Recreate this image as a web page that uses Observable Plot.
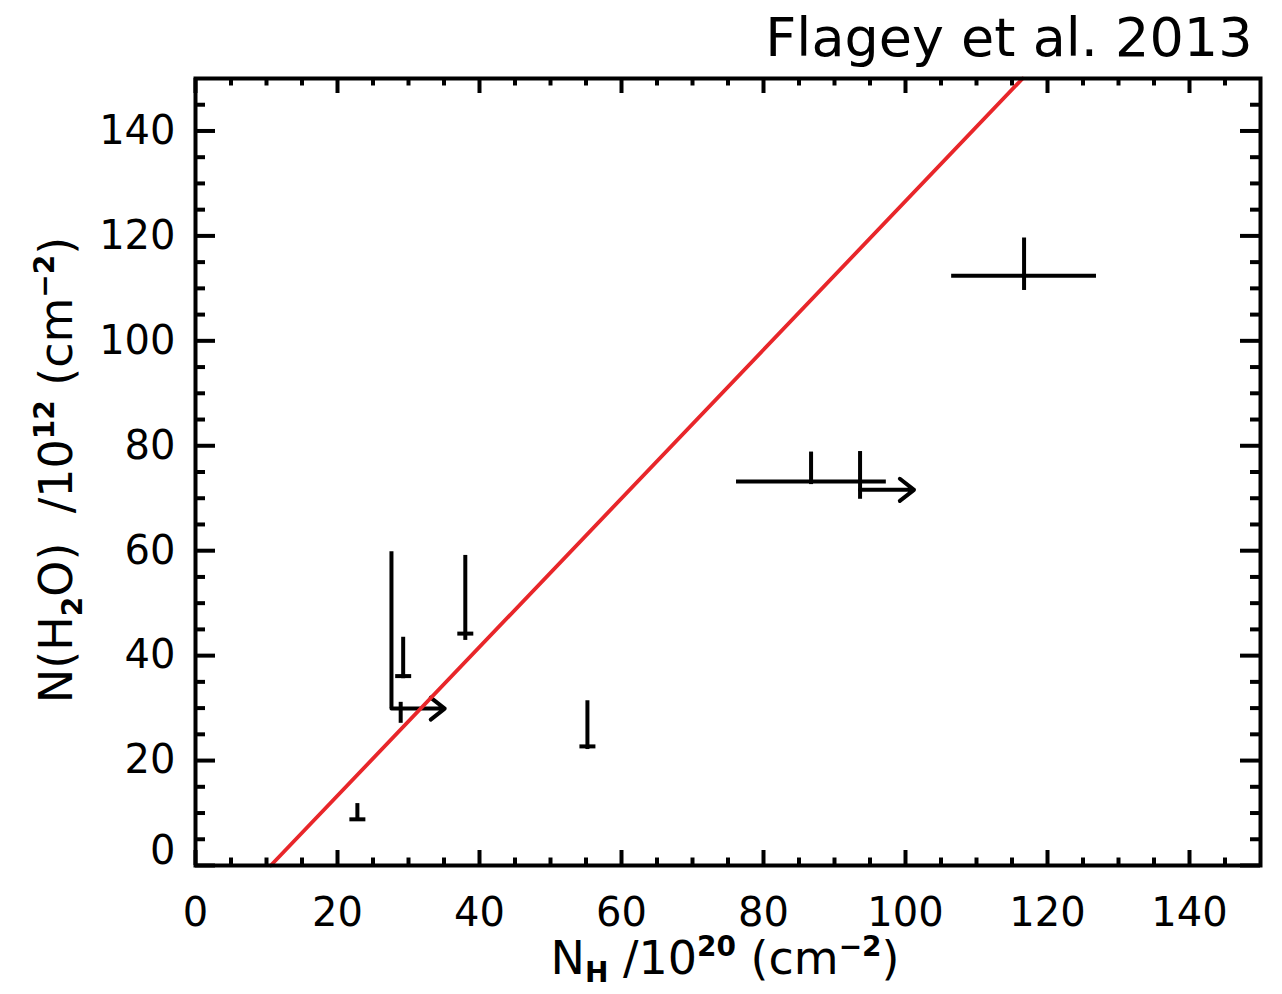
<!DOCTYPE html>
<html>
<head>
<meta charset="utf-8">
<script src="https://cdn.jsdelivr.net/npm/d3@7"></script>
<script src="https://cdn.jsdelivr.net/npm/@observablehq/plot@0.6"></script>
<style>
  body { margin: 0; background: #fff; }
  svg { display: block; }
</style>
</head>
<body>
<div id="chart"></div>
<script>
// ---- data ----
const titleText = "Flagey et al. 2013";
const xTickLabels = [0, 20, 40, 60, 80, 100, 120, 140];
const yTickLabels = [20, 40, 60, 80, 100, 120, 140];
const yZeroLabel = [0];
const majorTicks = [0, 20, 40, 60, 80, 100, 120, 140];
const minorTicks = [5, 10, 15, 25, 30, 35, 45, 50, 55, 65, 70, 75, 85, 90, 95, 105, 110, 115, 125, 130, 135, 145];

// red fit line
const fitX = [10.6, 116.5];
const fitY = [0, 150];

// vertical segments (upper limits and y error bars)
const vX  = [22.8, 29.25, 38.0, 55.2, 27.6, 28.9, 86.7, 93.6, 116.7];
const vY1 = [8.8, 35.6, 42.9, 22.1, 29.9, 27.1, 72.6, 69.8, 109.6];
const vY2 = [11.8, 43.5, 59.1, 31.4, 59.8, 31.1, 78.8, 78.9, 119.6];

// upper-limit bars
const ulX = [22.8, 29.25, 38.0, 55.2];
const ulY = [8.8, 36.1, 44.2, 22.7];

// horizontal error bars
const hY  = [73.2, 112.4];
const hX1 = [76.2, 106.5];
const hX2 = [97.3, 126.9];

// lower-limit arrows in N_H
const arrY  = [29.9, 71.6];
const arrX1 = [27.6, 93.6];
const arrX2 = [35.1, 101.2];

// ---- layout ----
const W = 1282, H = 994;
const mL = 195, mR = 22, mT = 78, mB = 129;
const fw = W - mL - mR, fh = H - mT - mB;
const font = "DejaVu Sans";
const sw = 4;

const hbar = {
  draw(ctx, size) {
    const r = Math.sqrt(size / Math.PI);
    ctx.moveTo(-r, 0);
    ctx.lineTo(r, 0);
  }
};

const chart = Plot.plot({
  width: W,
  height: H,
  marginLeft: mL,
  marginRight: mR,
  marginTop: mT,
  marginBottom: mB,
  style: { background: "white", fontFamily: font, color: "black" },
  x: { domain: [0, 150] },
  y: { domain: [0, 150] },
  marks: [
    // ticks (inward, all four sides)
    Plot.ruleX(majorTicks, { stroke: "black", strokeWidth: sw, insetTop: fh - 15 }),
    Plot.ruleX(majorTicks, { stroke: "black", strokeWidth: sw, insetBottom: fh - 15 }),
    Plot.ruleX(minorTicks, { stroke: "black", strokeWidth: sw, insetTop: fh - 7.5 }),
    Plot.ruleX(minorTicks, { stroke: "black", strokeWidth: sw, insetBottom: fh - 7.5 }),
    Plot.ruleY(majorTicks, { stroke: "black", strokeWidth: sw, insetRight: fw - 20 }),
    Plot.ruleY(majorTicks, { stroke: "black", strokeWidth: sw, insetLeft: fw - 20 }),
    Plot.ruleY(minorTicks, { stroke: "black", strokeWidth: sw, insetRight: fw - 10 }),
    Plot.ruleY(minorTicks, { stroke: "black", strokeWidth: sw, insetLeft: fw - 10 }),
    // tick labels
    Plot.axisX(xTickLabels, { anchor: "bottom", tickSize: 0, tickPadding: 32, fontSize: 40, label: null }),
    Plot.axisY(yTickLabels, { anchor: "left", tickSize: 0, tickPadding: 20, fontSize: 40, label: null }),
    Plot.axisY(yZeroLabel, { anchor: "left", tickSize: 0, tickPadding: 20, fontSize: 40, label: null, dy: -14 }),
    // data
    Plot.ruleX(vX, { x: vX, y1: vY1, y2: vY2, stroke: "black", strokeWidth: sw }),
    Plot.ruleY(hY, { y: hY, x1: hX1, x2: hX2, stroke: "black", strokeWidth: sw }),
    Plot.dot(ulX, { x: ulX, y: ulY, symbol: hbar, r: 8, stroke: "black", fill: "none", strokeWidth: sw }),
    Plot.arrow(arrY, { x1: arrX1, x2: arrX2, y1: arrY, y2: arrY, stroke: "black", strokeWidth: sw, headLength: 9, headAngle: 76 }),
    Plot.line(fitX, { x: fitX, y: fitY, stroke: "#e8262a", strokeWidth: 3.8 }),
    Plot.frame({ stroke: "black", strokeWidth: 4 }),
    // title
    Plot.text([titleText], { text: d => d, frameAnchor: "top-right", textAnchor: "end", lineAnchor: "middle", dx: -8, dy: -40, fontSize: 54, fill: "black" })
  ]
});

document.getElementById("chart").appendChild(chart);

// axis titles with sub/superscripts
const svg = d3.select(chart);
const xt = svg.append("text")
  .attr("x", 725).attr("y", 974)
  .attr("text-anchor", "middle")
  .attr("font-family", font).attr("font-size", 46)
  .attr("fill", "black").style("white-space", "pre");
xt.append("tspan").text("N");
xt.append("tspan").attr("font-size", 28).attr("font-weight", "bold").attr("dy", 8).text("H");
xt.append("tspan").attr("dy", -8).text(" /10");
xt.append("tspan").attr("font-size", 28).attr("font-weight", "bold").attr("dy", -18).text("20");
xt.append("tspan").attr("dy", 18).text(" (cm");
xt.append("tspan").attr("font-size", 28).attr("font-weight", "bold").attr("dy", -18).text("\u22122");
xt.append("tspan").attr("dy", 18).text(")");

const yt = svg.append("text")
  .attr("transform", "translate(72,470) rotate(-90)")
  .attr("text-anchor", "middle")
  .attr("font-family", font).attr("font-size", 46)
  .attr("fill", "black").style("white-space", "pre");
yt.append("tspan").text("N(H");
yt.append("tspan").attr("font-size", 28).attr("font-weight", "bold").attr("dy", 10).text("2");
yt.append("tspan").attr("dy", -10).text("O)  /10");
yt.append("tspan").attr("font-size", 28).attr("font-weight", "bold").attr("dy", -18).text("12");
yt.append("tspan").attr("dy", 18).text(" (cm");
yt.append("tspan").attr("font-size", 28).attr("font-weight", "bold").attr("dy", -18).text("\u22122");
yt.append("tspan").attr("dy", 18).text(")");
</script>
</body>
</html>
